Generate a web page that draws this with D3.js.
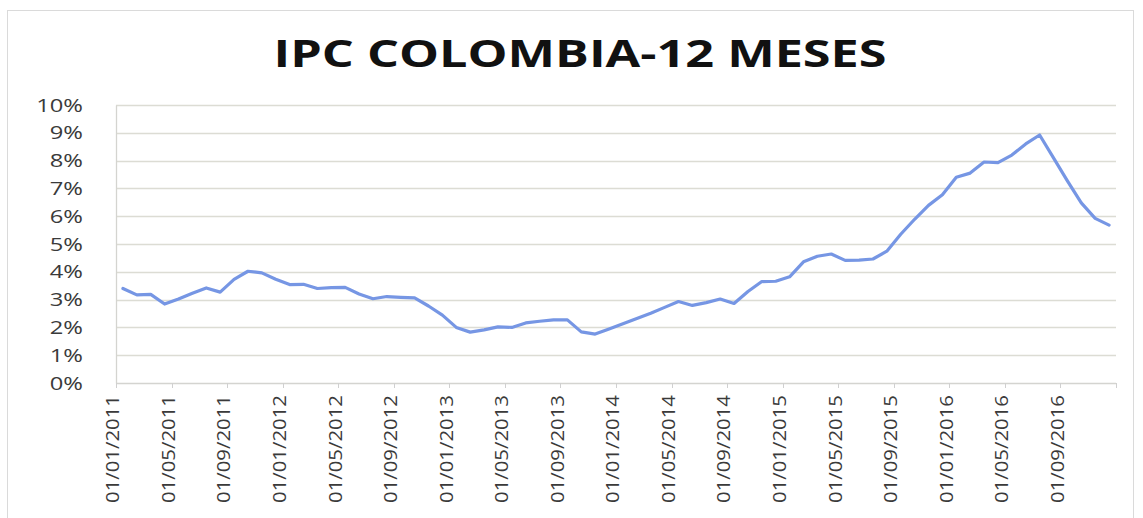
<!DOCTYPE html>
<html>
<head>
<meta charset="utf-8">
<script src="https://cdn.jsdelivr.net/npm/d3@7"></script>
<style>
  body { margin: 0; background: #fff; }
  svg text { font-family: "Open Sans", "DejaVu Sans", sans-serif; }
</style>
</head>
<body>
<div id="chart"></div>
<script>
// monthly 12-month CPI, Jan 2011 - Dec 2016
const years = [2011, 2012, 2013, 2014, 2015, 2016];
const ipc2011 = [3.40, 3.17, 3.19, 2.84, 3.02, 3.23, 3.42, 3.27, 3.73, 4.02, 3.96, 3.73];
const ipc2012 = [3.54, 3.55, 3.40, 3.43, 3.44, 3.20, 3.03, 3.11, 3.08, 3.06, 2.77, 2.44];
const ipc2013 = [2.00, 1.83, 1.91, 2.02, 2.00, 2.16, 2.22, 2.27, 2.27, 1.84, 1.76, 1.94];
const ipc2014 = [2.13, 2.32, 2.51, 2.72, 2.93, 2.79, 2.89, 3.02, 2.86, 3.29, 3.65, 3.66];
const ipc2015 = [3.82, 4.36, 4.56, 4.64, 4.41, 4.42, 4.46, 4.74, 5.35, 5.89, 6.39, 6.77];
const ipc2016 = [7.40, 7.55, 7.95, 7.93, 8.20, 8.60, 8.92, 8.10, 7.27, 6.48, 5.92, 5.68];
const yTicks = [0, 1, 2, 3, 4, 5, 6, 7, 8, 9, 10];
const title = 'IPC COLOMBIA-12 MESES';

const values = [].concat(ipc2011, ipc2012, ipc2013, ipc2014, ipc2015, ipc2016);
const data = values.map((v, i) => ({
  date: new Date(years[0] + Math.floor(i / 12), i % 12, 1),
  value: v
}));

const width = 1143;
const height = 518;
const marginLeft = 116;
const marginRight = 27;
const marginTop = 105;
const plotBottom = 383;
const stretch = 1.25 // source image is stretched sideways

const svg = d3.select('#chart').append('svg')
  .attr('width', width)
  .attr('height', height);

// chart frame
svg.append('rect')
  .attr('x', 7.5).attr('y', 10.5)
  .attr('width', 1126).attr('height', 520)
  .attr('fill', 'none')
  .attr('stroke', '#dadada');

// scales
const x = d3.scaleBand()
  .domain(data.map(d => d.date))
  .range([marginLeft, width - marginRight]);

const y = d3.scaleLinear()
  .domain([0, 10])
  .range([plotBottom, marginTop]);

// gridlines
svg.append('g')
  .selectAll('line')
  .data(yTicks.filter(d => d > 0))
  .enter()
  .append('line')
  .attr('x1', marginLeft)
  .attr('x2', width - marginRight)
  .attr('y1', d => Math.round(y(d)) + 0.5)
  .attr('y2', d => Math.round(y(d)) + 0.5)
  .attr('stroke', '#dcdcd4')
  .attr('stroke-width', 1.3);

// y axis
const yAxis = svg.append('g')
  .attr('transform', `translate(${marginLeft},0)`)
  .call(d3.axisLeft(y).tickValues(yTicks).tickSize(0).tickPadding(0).tickFormat(d => d + '%'));
yAxis.select('.domain').attr('stroke', '#d4d4d0').attr('stroke-width', 1.3);
yAxis.selectAll('text')
  .attr('x', -33 / stretch)
  .attr('transform', `scale(${stretch},1)`)
  .attr('font-size', 19)
  .attr('fill', '#3a3a3a')
  .attr('font-family', '"Open Sans", sans-serif');

// x axis: tick at month boundaries every 4 months
const tickDates = data.filter((d, i) => i % 4 === 0).map(d => d.date);
const xAxis = svg.append('g')
  .attr('transform', `translate(0,${plotBottom})`);
xAxis.append('line')
  .attr('x1', marginLeft).attr('x2', width - marginRight)
  .attr('y1', 0.5).attr('y2', 0.5)
  .attr('stroke', '#d4d4d0').attr('stroke-width', 1.3);
const tickX = tickDates.map(d => x(d)).concat([width - marginRight]);
xAxis.selectAll('.tick-mark')
  .data(tickX)
  .enter()
  .append('line')
  .attr('class', 'tick-mark')
  .attr('x1', d => Math.round(d) + 0.5)
  .attr('x2', d => Math.round(d) + 0.5)
  .attr('y1', 0).attr('y2', 5)
  .attr('stroke', '#d0d0d0');

const fmt = d3.timeFormat('%d/%m/%Y');
xAxis.selectAll('.label')
  .data(tickDates)
  .enter()
  .append('text')
  .attr('class', 'label')
  .attr('transform', d => `translate(${x(d) - 3},12) rotate(-90)`)
  .attr('text-anchor', 'end')
  .attr('dy', '0.35em')
  .attr('font-size', 18)
  .attr('textLength', 108)
  .attr('lengthAdjust', 'spacingAndGlyphs')
  .attr('fill', '#3a3a3a')
  .text(d => fmt(d));

// line
const line = d3.line()
  .x(d => x(d.date) + x.bandwidth() / 2)
  .y(d => y(d.value));

svg.append('path')
  .datum(data)
  .attr('d', line)
  .attr('fill', 'none')
  .attr('stroke', '#7696e4')
  .attr('stroke-width', 3.2)
  .attr('stroke-linejoin', 'round')
  .attr('stroke-linecap', 'round');

// title
svg.append('text')
  .attr('x', 580)
  .attr('y', 67)
  .attr('text-anchor', 'middle')
  .attr('font-size', 38)
  .attr('font-weight', 'bold')
  .attr('textLength', 613)
  .attr('lengthAdjust', 'spacingAndGlyphs')
  .attr('fill', '#111')
  .text(title);
</script>
</body>
</html>
